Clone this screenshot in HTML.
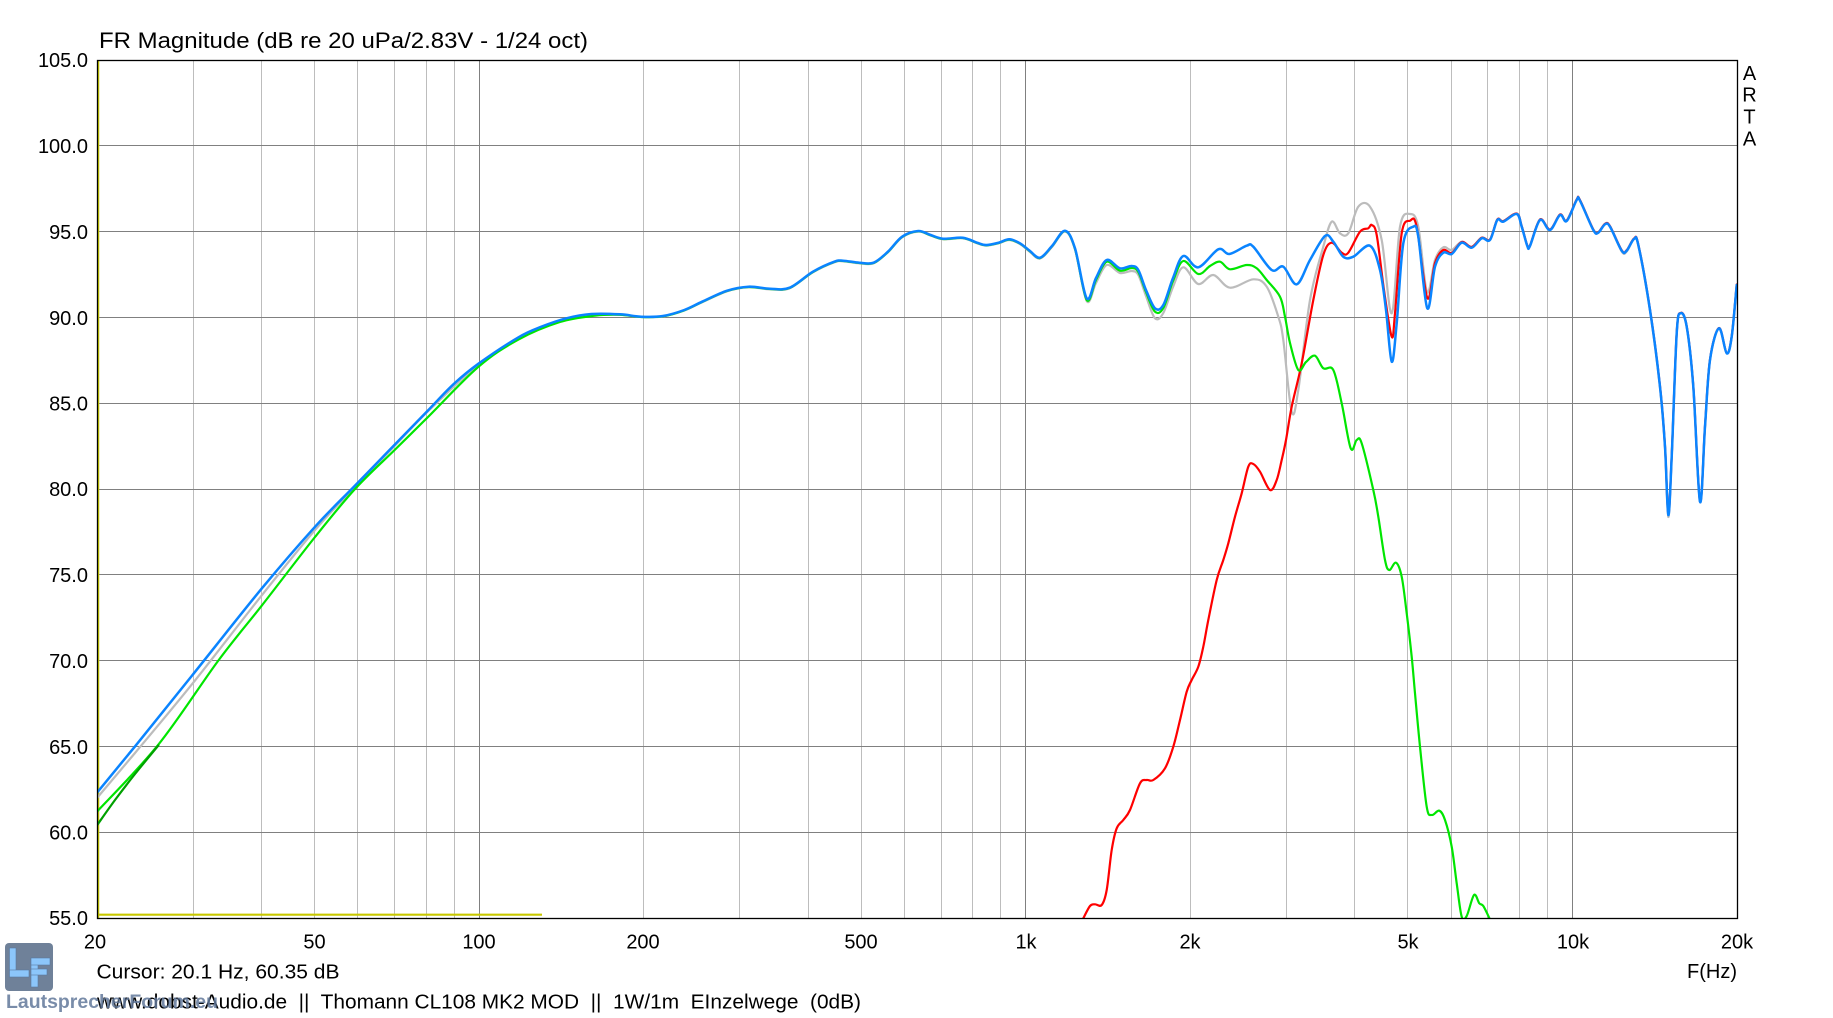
<!DOCTYPE html>
<html><head><meta charset="utf-8"><style>
html,body{margin:0;padding:0;background:#fff;overflow:hidden}
svg{display:block}
text{font-family:"Liberation Sans",Arial,sans-serif;fill:#000}
</style></head><body>
<svg width="1833" height="1018" viewBox="0 0 1833 1018" xmlns="http://www.w3.org/2000/svg">
<defs><clipPath id="pa"><rect x="97" y="60" width="1641" height="859"/></clipPath></defs>
<rect width="1833" height="1018" fill="#fff"/>
<!-- minor vertical grid -->
<path d="M193.5,60V918M261.5,60V918M314.5,60V918M357.5,60V918M394.5,60V918M426.5,60V918M454.5,60V918M643.5,60V918M739.5,60V918M808.5,60V918M861.5,60V918M904.5,60V918M941.5,60V918M972.5,60V918M1000.5,60V918M1190.5,60V918M1286.5,60V918M1354.5,60V918M1407.5,60V918M1451.5,60V918M1487.5,60V918M1519.5,60V918M1547.5,60V918" stroke="#bdbdbd" stroke-width="1" fill="none" shape-rendering="crispEdges"/>
<!-- major grid -->
<path d="M479.5,60V918M1025.5,60V918M1572.5,60V918M97,145.5H1737M97,231.5H1737M97,317.5H1737M97,403.5H1737M97,489.5H1737M97,574.5H1737M97,660.5H1737M97,746.5H1737M97,832.5H1737" stroke="#808080" stroke-width="1" fill="none" shape-rendering="crispEdges"/>
<!-- yellow -->
<path d="M98.5,61V918" stroke="#c8c800" stroke-width="1.5" fill="none"/>
<path d="M98,914.7H542" stroke="#c8c800" stroke-width="2.2" fill="none"/>

<g fill="none" stroke-width="2.2" stroke-linejoin="round" stroke-linecap="round" clip-path="url(#pa)">
<!-- gray -->
<path class="c" stroke="#bcbcbc" d="M97,798 L135,753 L191.7,684.6 L261.7,595.4 L315,530 L355,487 L395,445.5 L428.3,411 L478.3,365 L518.3,338.5 L566.4,319 L591.4,315 L620,314.8 L641.4,317 L662.9,316.5 L684.3,310.5 L702.1,302.3 L727.1,291.3 L748.6,287.3 L770,289.3 L789.6,288.3 L812.9,272.3 L834.3,262.3 L843.2,261.3 L859.3,263.3 L873.6,263.3 L887.9,252.3 L902.1,237.3 L918.2,231.6 L930.7,235.6 L943.2,239.3 L962.9,238.3 L977.1,243.3 L986.1,245.6 L998.6,243.3 L1009.3,240 L1020,244 L1030,252 L1040,258.5 L1052,247 L1065,231.5 L1075,249.5 L1086.7,301 L1096,283 L1106.7,265 L1120,273 L1131.7,271 L1138.3,275 L1146,296 L1155,318.3 L1163.3,313 L1173,287 L1183.3,267.3 L1198.3,284 L1213.3,275 L1230,287.7 L1253.3,279.3 L1266.7,286.7 L1278.3,316.7 L1283.3,340 L1291.7,411.7 L1298.3,390 L1310,300 L1323.3,246.7 L1331.7,221.7 L1340,233.3 L1348.3,233.3 L1358.3,206.7 L1370,206.7 L1381.7,240 L1391.7,313.3 L1400,226.7 L1410,214 L1418.3,226.7 L1427,292 L1435,260 L1443.3,247.3 L1451.7,250 L1461.7,241.7 L1471.7,246.7 L1481.7,237.5 L1490,239.5 L1497.3,219.5 L1503.3,221 L1516.7,213.5 L1521.7,226 L1527.3,245.5 L1530,245.5 L1540,219.5 L1550,229.5 L1560,214.5 L1566.7,220.5 L1576.7,199.5 L1580,200.2 L1593.3,229.5 L1598.3,232.2 L1605,223.8 L1610,226.2 L1621.7,251.5 L1626.7,251.5 L1634,239 L1638.3,245.5 L1650,311 L1660,388 L1665,448 L1668.3,517 L1671.7,457 L1676.7,333 L1680.7,313 L1686.7,326.7 L1693.3,387 L1700,502 L1705,427 L1710,360 L1719,328.3 L1726.7,353.3 L1731.7,336.7 L1736.7,285"/>
<!-- red -->
<path class="c" stroke="#ff0000" d="M1083.3,918.3 L1090,906 L1095,904.3 L1101.7,905 L1106.7,890 L1111.7,850 L1116.7,828.3 L1123.3,820 L1130,810 L1140,783.3 L1146.7,780 L1153.3,780 L1165,768.3 L1173.3,746.7 L1180,720 L1186.7,691.7 L1191.7,680 L1198.3,666.7 L1203.3,646.7 L1208.3,620 L1216.7,580 L1223.3,560 L1228.3,543.3 L1235,516.7 L1241.7,493.3 L1248.3,466.7 L1253.3,464 L1260,471.7 L1270,490 L1276.7,480 L1281.7,460 L1286,440 L1291.7,406.7 L1301.7,363.3 L1313.3,300 L1323.3,255 L1331.7,242.7 L1341.7,252.7 L1348.3,252.7 L1360,231.7 L1368.3,228.3 L1371.7,225 L1376.7,235 L1384,290 L1391.7,336.7 L1395,313.3 L1401.7,233.3 L1410,220.7 L1416.7,226.7 L1427.3,298 L1435,263 L1443.3,250 L1451.7,253 L1461.7,242 L1471.7,247 L1481.7,237.8 L1490,239.5 L1497.3,219.5 L1503.3,221.2 L1516.7,213.5 L1521.7,226.2 L1527.3,245.5 L1530,245.5 L1540,219.5 L1550,229.5 L1560,214.5 L1566.7,220.5 L1576.7,199.5 L1580,200.2 L1593.3,229.5 L1598.3,232.2 L1605,223.8 L1610,226.2 L1621.7,250.2 L1626.7,250.2 L1634,238.5 L1638.3,244.5 L1650,309.5 L1660,386 L1665,446 L1668.3,514 L1671.7,456 L1676.7,333 L1680.7,313 L1686.7,326.2 L1693.3,386 L1700,501 L1705,426 L1710,359.5 L1719,328 L1726.7,353 L1731.7,336.2 L1736.7,284.5"/>
<!-- light green -->
<path class="c" stroke="#00e600" d="M97,811.6 L158.3,744.7 L218.3,660.6 L261.7,605.7 L315,537 L355,489 L395,449.6 L428,417 L478,367.2 L518,339.8 L560,322 L595,315.7 L620,314.8 L641.4,317 L662.9,316.3 L684.3,310.3 L702.1,302 L727.1,291 L748.6,287 L770,289 L789.6,288 L812.9,272 L834.3,262 L843.2,261 L859.3,263 L873.6,263 L887.9,252 L902.1,237 L918.2,231.3 L930.7,235.3 L943.2,239 L962.9,238 L977.1,243 L986.1,245.3 L998.6,243 L1009.3,239.6 L1020,243.6 L1030,251.3 L1040,258 L1052,246.3 L1065,231 L1075,248.8 L1086.7,300 L1096,280 L1106.7,261.7 L1120,270.7 L1131.7,268 L1138.3,272 L1146,292 L1155,311.7 L1163.3,308 L1173,281 L1183.3,261 L1198.3,274 L1210,266 L1220,261.7 L1230,269.3 L1246.7,265 L1256.7,268.3 L1266.7,280 L1280,296.7 L1285,316.7 L1290,343 L1298.3,370 L1306,362 L1315,355.7 L1323.3,368.3 L1333.3,370 L1341.7,403.3 L1350.7,448.3 L1356.7,440 L1361.7,443.3 L1373.3,490 L1378.3,516.7 L1385,560 L1389.3,570 L1396,562.7 L1401.7,576.7 L1406.7,613.3 L1411.7,656.7 L1415,693.3 L1420,746.7 L1426.7,806.7 L1431.7,815 L1439.3,810.7 L1445,820 L1451.7,846.7 L1456.7,883.3 L1461.7,916.7 L1466.7,916 L1474,895 L1479.3,903.3 L1483.3,906 L1489.3,918"/>
<!-- dark green start -->
<path class="c" stroke="#00a000" d="M97,825.3 L115,800 L135,774 L158.3,745.5"/>
<!-- blue -->
<path class="c" stroke="#0a84ff" stroke-width="2.5" d="M97,792.7 L135,746.4 L191.7,676 L261.7,588.6 L315,526.8 L355,485.6 L395,444.4 L428.3,410.1 L453.3,384.4 L478.3,363.8 L518.3,337.4 L541.4,326.7 L566.4,318.3 L591.4,314 L620,314.3 L641.4,316.7 L662.9,316 L684.3,310 L702.1,301.7 L727.1,290.7 L748.6,286.7 L770,288.7 L789.6,287.7 L812.9,271.7 L834.3,261.7 L843.2,260.7 L859.3,262.7 L873.6,262.7 L887.9,251.7 L902.1,236.7 L918.2,231 L930.7,235 L943.2,238.7 L962.9,237.7 L977.1,242.7 L986.1,245 L998.6,242.7 L1009.3,239.3 L1020,243.3 L1030,251 L1040,257.7 L1052,246 L1065,230.7 L1075,248.3 L1086.7,298.3 L1096,278 L1106.7,260 L1120,268.3 L1131.7,266 L1138.3,270 L1146,290 L1155,308.3 L1163.3,305 L1173,278 L1183.3,256 L1198.3,267.3 L1218.3,249.3 L1229.3,254 L1246.7,245.7 L1253.3,246.7 L1271.7,270 L1283.3,266.7 L1296.7,284.3 L1310,260 L1325,236 L1333.3,241.7 L1343.3,256.7 L1353.3,256.7 L1370,245.7 L1380,270 L1386,310 L1391.7,361.7 L1396.7,323.3 L1403.3,243.3 L1413.3,226.7 L1418.3,236.7 L1427.3,308.3 L1435,266.7 L1443.3,252.7 L1451.7,254 L1461.7,242.7 L1471.7,247.7 L1481.7,238.3 L1490,240 L1497.3,220 L1503.3,221.7 L1516.7,214 L1521.7,226.7 L1527.3,246 L1530,246 L1540,220 L1550,230 L1560,215 L1566.7,221 L1576.7,200 L1580,200.7 L1593.3,230 L1598.3,232.7 L1605,224.3 L1610,226.7 L1621.7,250.7 L1626.7,250.7 L1634,239 L1638.3,245 L1650,310 L1660,386.7 L1665,446.7 L1668.3,515 L1671.7,456.7 L1676.7,333.3 L1680.7,313.3 L1686.7,326.7 L1693.3,386.7 L1700,501.7 L1705,426.7 L1710,360 L1719,328.3 L1726.7,353.3 L1731.7,336.7 L1736.7,285"/>
</g>

<!-- border -->
<rect x="97.5" y="60.5" width="1640" height="858" fill="none" stroke="#000" stroke-width="1.3"/>

<!-- title -->
<text x="99" y="48" font-size="22" textLength="489" lengthAdjust="spacingAndGlyphs">FR Magnitude (dB re 20 uPa/2.83V - 1/24 oct)</text>

<!-- y labels -->
<g font-size="20" text-anchor="end">
<text x="88" y="67">105.0</text>
<text x="88" y="153">100.0</text>
<text x="88" y="239">95.0</text>
<text x="88" y="325">90.0</text>
<text x="88" y="410.5">85.0</text>
<text x="88" y="496">80.0</text>
<text x="88" y="582">75.0</text>
<text x="88" y="668">70.0</text>
<text x="88" y="754">65.0</text>
<text x="88" y="839.5">60.0</text>
<text x="88" y="925">55.0</text>
</g>

<!-- x labels -->
<g font-size="20" text-anchor="middle">
<text x="95" y="948.5">20</text>
<text x="314.5" y="948.5">50</text>
<text x="479" y="948.5">100</text>
<text x="643" y="948.5">200</text>
<text x="861" y="948.5">500</text>
<text x="1026" y="948.5">1k</text>
<text x="1190" y="948.5">2k</text>
<text x="1408" y="948.5">5k</text>
<text x="1573" y="948.5">10k</text>
<text x="1737" y="948.5">20k</text>
</g>

<!-- ARTA -->
<g font-size="20" text-anchor="middle">
<text x="1749.5" y="80">A</text>
<text x="1749.5" y="101.7">R</text>
<text x="1749.5" y="123.3">T</text>
<text x="1749.5" y="145.5">A</text>
</g>

<text x="1737" y="978" font-size="20" text-anchor="end">F(Hz)</text>
<text x="96.5" y="978.5" font-size="20" textLength="243" lengthAdjust="spacingAndGlyphs">Cursor: 20.1 Hz, 60.35 dB</text>
<text x="97" y="1008.5" font-size="20" textLength="764" lengthAdjust="spacingAndGlyphs" style="white-space:pre">www.dobst-Audio.de  ||  Thomann CL108 MK2 MOD  ||  1W/1m  EInzelwege  (0dB)</text>

<!-- LF logo -->
<rect x="5" y="943" width="48" height="48" rx="4" fill="#6f8199"/>
<g fill="#8cc6fa" stroke="#5a7aa0" stroke-width="0.6">
<rect x="9.5" y="948" width="6.5" height="29"/>
<rect x="9.5" y="970" width="19.5" height="7"/>
<rect x="31" y="958" width="7" height="29"/>
<rect x="31" y="958" width="19" height="7"/>
<rect x="31" y="969" width="16" height="6"/>
</g>
<text x="6" y="1008" font-size="19" font-weight="bold" textLength="212" lengthAdjust="spacingAndGlyphs" style="fill:#62789a;fill-opacity:0.85">LautsprecherForum.eu</text>
</svg>
<script>
(function(){
var ps=document.querySelectorAll('path.c');
for(var k=0;k<ps.length;k++){
var p=ps[k];var n=p.getAttribute('d').match(/-?[\d.]+/g).map(Number);
var pts=[];for(var i=0;i+1<n.length;i+=2)pts.push([n[i],n[i+1]]);
if(pts.length<3)continue;
var d='M'+pts[0][0]+','+pts[0][1];
for(var i=0;i<pts.length-1;i++){
var p0=pts[i-1]||pts[i],p1=pts[i],p2=pts[i+1],p3=pts[i+2]||p2;
var c1x=p1[0]+(p2[0]-p0[0])/6,c1y=p1[1]+(p2[1]-p0[1])/6;
var c2x=p2[0]-(p3[0]-p1[0])/6,c2y=p2[1]-(p3[1]-p1[1])/6;
d+='C'+c1x.toFixed(2)+','+c1y.toFixed(2)+' '+c2x.toFixed(2)+','+c2y.toFixed(2)+' '+p2[0]+','+p2[1];
}
p.setAttribute('d',d);
}
})();
</script>
</body></html>
